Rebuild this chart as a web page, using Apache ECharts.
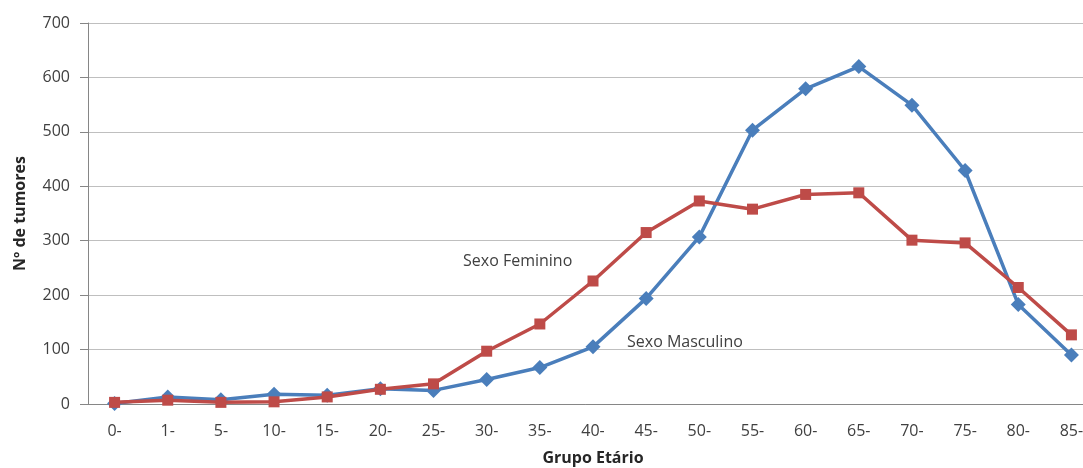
<!DOCTYPE html>
<html><head><meta charset="utf-8">
<script src="https://cdn.jsdelivr.net/npm/echarts@6/dist/echarts.min.js"></script>
<style>html,body{margin:0;padding:0;background:#fff;overflow:hidden;}#c{width:1083px;height:468px;}</style>
</head><body><div id="c"></div>
<script>
const categories = ['0-','1-','5-','10-','15-','20-','25-','30-','35-','40-','45-','50-','55-','60-','65-','70-','75-','80-','85-'];
const masculino = [1,13,8,18,16,28,25,45,67,105,194,307,503,579,620,549,429,183,90];
const feminino = [3,7,3,4,13,27,37,97,147,226,315,373,358,385,388,301,296,214,127];
const yTicks = {min:0, max:700, interval:100};
const FONT = '"Open Sans", "Liberation Sans", sans-serif';
const chart = echarts.init(document.getElementById('c'));
chart.setOption({
  animation:false,
  backgroundColor:'#fff',
  grid:{left:88, width:1010, top:23, bottom:64, containLabel:false, outerBoundsMode:'none'},
  xAxis:{type:'category', data:categories, boundaryGap:true,
    axisLine:{lineStyle:{color:'#868686', width:1}},
    axisTick:{show:false},
    axisLabel:{color:'#404040', fontSize:16, fontFamily:FONT, margin:19},
    name:'Grupo Etário', nameLocation:'middle', nameGap:46,
    nameTextStyle:{fontWeight:'bold', fontSize:16, color:'#262626', fontFamily:FONT}
  },
  yAxis:{type:'value', min:yTicks.min, max:yTicks.max, interval:yTicks.interval,
    axisLine:{show:true, lineStyle:{color:'#868686', width:1}},
    axisTick:{show:true, length:8, lineStyle:{color:'#868686'}},
    splitLine:{lineStyle:{color:'#bfbfbf', width:1}},
    axisLabel:{color:'#404040', fontSize:16, fontFamily:FONT, margin:18},
    name:'Nº de tumores', nameLocation:'middle', nameGap:60, nameRotate:90,
    nameTextStyle:{fontWeight:'bold', fontSize:16, color:'#262626', fontFamily:FONT}
  },
  series:[
    {name:'Sexo Masculino', type:'line', data:masculino, color:'#4A7EBB',
      lineStyle:{width:3.5, color:'#4A7EBB'}, symbol:'diamond', symbolSize:15,
      itemStyle:{color:'#4A7EBB'}, z:2},
    {name:'Sexo Feminino', type:'line', data:feminino, color:'#BE4B48',
      lineStyle:{width:3.5, color:'#BE4B48'}, symbol:'rect', symbolSize:11,
      itemStyle:{color:'#BE4B48'}, z:3}
  ],
  graphic:[
    {type:'text', left:463, top:253, style:{text:'Sexo Feminino', fontSize:16, fontFamily:FONT, fill:'#404040'}},
    {type:'text', left:627, top:334, style:{text:'Sexo Masculino', fontSize:16, fontFamily:FONT, fill:'#404040'}}
  ]
});
</script></body></html>
